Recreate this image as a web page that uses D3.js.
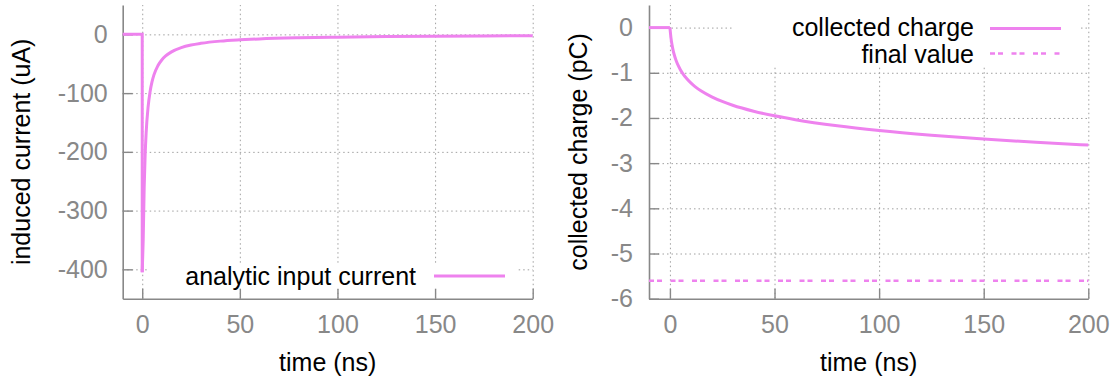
<!DOCTYPE html>
<html>
<head>
<meta charset="utf-8">
<script src="https://cdn.jsdelivr.net/npm/d3@7"></script>
<style>
  html, body { margin: 0; padding: 0; background: #fff; }
  svg { display: block; font-family: "Liberation Sans", Arial, sans-serif; }
</style>
</head>
<body>
<svg id="chart" width="1118" height="381"></svg>
<script>
// ---- data ----
const time = [-10, 0, 0, 0.5, 1, 1.5, 2, 3, 4, 5, 6, 8, 10, 12, 15, 20, 25, 30, 40, 50, 60, 80, 100, 125, 150, 175, 200];
const current = [0, 0, -405, -350, -261, -205, -168, -124, -98, -81, -69, -53.5, -43.6, -36.8, -29.8, -22.6, -18.2, -15.3, -11.5, -9.3, -7.7, -5.8, -4.7, -3.7, -3.1, -2.7, -2.3];
const charge = [0, 0, 0, -0.228, -0.382, -0.497, -0.590, -0.733, -0.843, -0.932, -1.007, -1.128, -1.225, -1.305, -1.404, -1.533, -1.635, -1.718, -1.850, -1.953, -2.038, -2.172, -2.276, -2.380, -2.466, -2.538, -2.600];
const finalValue = -5.6;
const xTicks = [0, 50, 100, 150, 200];
const currentTicks = [0, -100, -200, -300, -400];
const chargeTicks = [0, -1, -2, -3, -4, -5, -6];
const currentLabel = "analytic input current";
const chargeLabel = "collected charge";
const finalLabel = "final value";

const svg = d3.select("#chart");
const LINE = "#ee82ee";
const AXIS = "#888888";
const GRID = "#a0a0a0";
const FS = 25;
const LW = 3;
const fmt = d => String(d);

function panel(cfg) {
  const x = d3.scaleLinear().domain(cfg.xDomain).range([cfg.x0, cfg.x1]);
  const y = d3.scaleLinear().domain(cfg.yDomain).range([cfg.y1, cfg.y0]);
  const g = svg.append("g");

  // grid
  g.append("g").attr("transform", `translate(0,${cfg.y1})`)
    .call(d3.axisBottom(x).tickValues(xTicks).tickSize(-(cfg.y1 - cfg.y0)).tickFormat(""))
    .call(s => { s.select(".domain").remove(); s.selectAll("line").attr("stroke", GRID).attr("stroke-dasharray", "1.5,3"); });
  g.append("g").attr("transform", `translate(${cfg.x0},0)`)
    .call(d3.axisLeft(y).tickValues(cfg.yTicks.filter(v => v > cfg.yDomain[0])).tickSize(-(cfg.x1 - cfg.x0)).tickFormat(""))
    .call(s => { s.select(".domain").remove(); s.selectAll("line").attr("stroke", GRID).attr("stroke-dasharray", "1.5,3"); });

  // legend box (opaque)
  g.append("rect").attr("x", cfg.key.x).attr("y", cfg.key.y).attr("width", cfg.key.w).attr("height", cfg.key.h).attr("fill", "#fff");

  // axes
  g.append("g").attr("transform", `translate(0,${cfg.y1})`)
    .call(d3.axisBottom(x).tickValues(xTicks).tickSizeInner(-10).tickSizeOuter(0).tickPadding(17).tickFormat(fmt))
    .call(s => {
      s.select(".domain").attr("stroke", AXIS).attr("stroke-width", 1.6);
      s.selectAll("line").attr("stroke", AXIS).attr("stroke-width", 1.4);
      s.selectAll("text").attr("fill", AXIS).attr("font-size", FS).attr("font-family", "Liberation Sans, Arial, sans-serif");
    });
  g.append("g").attr("transform", `translate(${cfg.x0},0)`)
    .call(d3.axisLeft(y).tickValues(cfg.yTicks).tickSizeInner(-10).tickSizeOuter(0).tickPadding(cfg.yPad).tickFormat(fmt))
    .call(s => {
      s.select(".domain").attr("stroke", AXIS).attr("stroke-width", 1.6);
      s.selectAll("line").attr("stroke", AXIS).attr("stroke-width", 1.4);
      s.selectAll("text").attr("fill", AXIS).attr("font-size", FS).attr("font-family", "Liberation Sans, Arial, sans-serif");
    });

  // axis titles
  g.append("text").attr("x", (cfg.x0 + cfg.x1) / 2).attr("y", 371).attr("text-anchor", "middle")
    .attr("font-size", FS).attr("fill", "#000").text("time (ns)");
  g.append("text").attr("transform", `translate(${cfg.ylabX},${(cfg.y0 + cfg.y1) / 2}) rotate(-90)`)
    .attr("text-anchor", "middle").attr("dy", "0.35em").attr("font-size", FS).attr("fill", "#000").text(cfg.yTitle);

  return { x, y, g };
}

// ---- left panel: induced current ----
const L = panel({
  xDomain: [-10, 200], yDomain: [-450, 50],
  x0: 122.7, x1: 532.7, y0: 5, y1: 298.7,
  yTicks: currentTicks, yPad: 15, ylabX: 21,
  yTitle: "induced current (uA)",
  key: { x: 147, y: 264, w: 371, h: 25 }
});
const pts1 = time.map((t, i) => [t, current[i]]);
const lineL = d3.line().x(d => L.x(d[0])).y(d => L.y(d[1]));
L.g.append("path").attr("d", lineL(pts1.slice(0, 3)))
  .attr("fill", "none").attr("stroke", LINE).attr("stroke-width", LW);
L.g.append("path").attr("d", lineL.curve(d3.curveMonotoneX)(pts1.slice(2)))
  .attr("fill", "none").attr("stroke", LINE).attr("stroke-width", LW).attr("stroke-linejoin", "round");
// legend
L.g.append("text").attr("x", 416).attr("y", 276).attr("dy", "0.35em").attr("text-anchor", "end")
  .attr("font-size", FS).attr("fill", "#000").text(currentLabel);
L.g.append("line").attr("x1", 434).attr("x2", 505).attr("y1", 276).attr("y2", 276)
  .attr("stroke", LINE).attr("stroke-width", LW);

// ---- right panel: collected charge ----
const R = panel({
  xDomain: [-10, 200], yDomain: [-6, 0.5],
  x0: 649, x1: 1088.3, y0: 5, y1: 298.7,
  yTicks: chargeTicks, yPad: 16, ylabX: 578,
  yTitle: "collected charge (pC)",
  key: { x: 734, y: 5, w: 344, h: 62 }
});
const pts2 = time.map((t, i) => [t, charge[i]]);
const lineR = d3.line().x(d => R.x(d[0])).y(d => R.y(d[1]));
R.g.append("path").attr("d", lineR(pts2.slice(0, 3)))
  .attr("fill", "none").attr("stroke", LINE).attr("stroke-width", LW);
R.g.append("path").attr("d", lineR.curve(d3.curveMonotoneX)(pts2.slice(2)))
  .attr("fill", "none").attr("stroke", LINE).attr("stroke-width", LW).attr("stroke-linejoin", "round");
R.g.append("line").attr("x1", R.x(-10)).attr("x2", R.x(200)).attr("y1", R.y(finalValue)).attr("y2", R.y(finalValue))
  .attr("stroke", LINE).attr("stroke-width", 2.5).attr("stroke-dasharray", "5,3,5,8.5");
// legend
R.g.append("text").attr("x", 974).attr("y", 27.5).attr("dy", "0.35em").attr("text-anchor", "end")
  .attr("font-size", FS).attr("fill", "#000").text(chargeLabel);
R.g.append("line").attr("x1", 990).attr("x2", 1061).attr("y1", 28.5).attr("y2", 28.5)
  .attr("stroke", LINE).attr("stroke-width", LW);
R.g.append("text").attr("x", 974).attr("y", 54.5).attr("dy", "0.35em").attr("text-anchor", "end")
  .attr("font-size", FS).attr("fill", "#000").text(finalLabel);
R.g.append("line").attr("x1", 990).attr("x2", 1061).attr("y1", 53.5).attr("y2", 53.5)
  .attr("stroke", LINE).attr("stroke-width", 2.5).attr("stroke-dasharray", "5,3,5,8.5");
</script>
</body>
</html>
